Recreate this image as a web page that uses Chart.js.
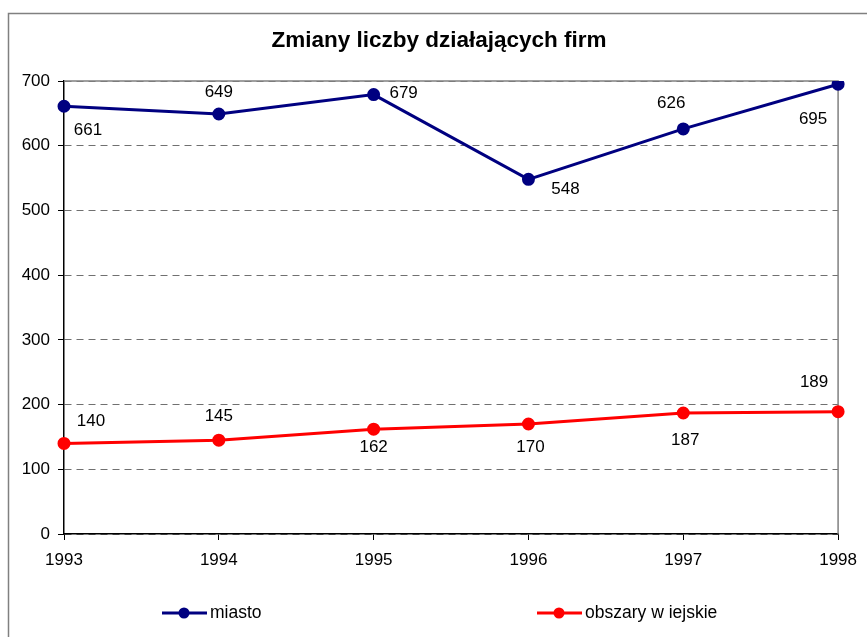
<!DOCTYPE html>
<html>
<head>
<meta charset="utf-8">
<script src="https://cdn.jsdelivr.net/npm/chart.js@4.4.0/dist/chart.umd.min.js"></script>
<style>
  body { margin: 0; background: #fff; }
  #wrap { position: relative; width: 867px; height: 637px; }
</style>
</head>
<body>
<div id="wrap"><canvas id="chartFirmy"></canvas></div>
<script>
const lata = ["1993", "1994", "1995", "1996", "1997", "1998"];
const miasto = [661, 649, 679, 548, 626, 695];
const obszaryWiejskie = [140, 145, 162, 170, 187, 189];
const tytul = "Zmiany liczby działających firm";
const nazwySerii = ["miasto", "obszary w iejskie"];

// przesuniecia etykiet danych (px) wzgledem punktu
const etykietyMiasto = [[24, 24], [0, -22], [30, -1], [37, 10], [-12, -26], [-25, 35]];
const etykietyWies = [[27, -22], [0, -24], [0, 18], [2, 23], [2, 27], [-24, -29]];

const FONT = "'Liberation Sans', Arial, sans-serif";

const ramkaPlugin = {
    id: "ramka",
    beforeDraw(chart) {
        const ctx = chart.ctx;
        ctx.save();
        ctx.fillStyle = "#fff";
        ctx.fillRect(0, 0, chart.width, chart.height);
        ctx.strokeStyle = "#808080";
        ctx.lineWidth = 1.5;
        ctx.strokeRect(8.5, 13.5, chart.width + 10, chart.height + 10);
        ctx.restore();
    },
    beforeDatasetsDraw(chart) {
        const { ctx, chartArea: a } = chart;
        ctx.save();
        ctx.strokeStyle = "#808080";
        ctx.lineWidth = 1.5;
        ctx.beginPath();
        ctx.moveTo(a.left, a.top);
        ctx.lineTo(a.right, a.top);
        ctx.lineTo(a.right, a.bottom);
        ctx.stroke();
        ctx.restore();
    },
    afterDraw(chart) {
        const ctx = chart.ctx;
        ctx.save();
        ctx.fillStyle = "#000";
        ctx.textBaseline = "middle";
        ctx.textAlign = "center";
        ctx.font = "bold 22.5px " + FONT;
        ctx.fillText(tytul, 439, 41);

        // etykiety danych
        ctx.font = "17px " + FONT;
        [etykietyMiasto, etykietyWies].forEach((off, di) => {
            const meta = chart.getDatasetMeta(di);
            meta.data.forEach((pt, i) => {
                ctx.fillText(String(chart.data.datasets[di].data[i]), pt.x + off[i][0], pt.y + off[i][1]);
            });
        });

        // legenda
        const legenda = [[162, nazwySerii[0], "#000080"], [537, nazwySerii[1], "#FF0000"]];
        ctx.font = "17.5px " + FONT;
        legenda.forEach(([x, txt, kol]) => {
            const y = 613;
            ctx.strokeStyle = kol;
            ctx.lineWidth = 3;
            ctx.beginPath();
            ctx.moveTo(x, y);
            ctx.lineTo(x + 45, y);
            ctx.stroke();
            ctx.fillStyle = kol;
            ctx.beginPath();
            ctx.arc(x + 22, y, 5.5, 0, Math.PI * 2);
            ctx.fill();
            ctx.fillStyle = "#000";
            ctx.textAlign = "left";
            ctx.fillText(txt, x + 48, y);
        });
        ctx.restore();
    }
};

new Chart(document.getElementById("chartFirmy").getContext("2d"), {
    type: "line",
    data: {
        labels: lata,
        datasets: [{
            label: nazwySerii[0],
            data: miasto,
            borderColor: "#000080",
            backgroundColor: "#000080",
            borderWidth: 3,
            pointRadius: 5,
            pointHoverRadius: 5,
            tension: 0
        }, {
            label: nazwySerii[1],
            data: obszaryWiejskie,
            borderColor: "#FF0000",
            backgroundColor: "#FF0000",
            borderWidth: 3,
            pointRadius: 5,
            pointHoverRadius: 5,
            tension: 0
        }]
    },
    options: {
        responsive: true,
        maintainAspectRatio: false,
        animation: false,
        layout: { padding: { left: 0, top: 81, right: 28, bottom: 0 } },
        plugins: {
            legend: { display: false },
            title: { display: false },
            tooltip: { enabled: false }
        },
        scales: {
            x: {
                offset: false,
                afterFit: s => { s.height = 103; },
                grid: { drawOnChartArea: false, drawTicks: true, tickLength: 6, color: "#000" },
                border: { color: "#000", width: 1.5 },
                ticks: { color: "#000", font: { family: FONT, size: 17 }, padding: 10, maxRotation: 0 }
            },
            y: {
                min: 0,
                max: 700,
                afterFit: s => { s.width = 64; },
                grid: { color: "#707070", tickColor: "#000", tickLength: 6, lineWidth: 1 },
                border: { color: "#000", width: 1.5, dash: [7, 5] },
                ticks: { stepSize: 100, color: "#000", font: { family: FONT, size: 17 }, padding: 8 }
            }
        }
    },
    plugins: [ramkaPlugin]
});
</script>
</body>
</html>
